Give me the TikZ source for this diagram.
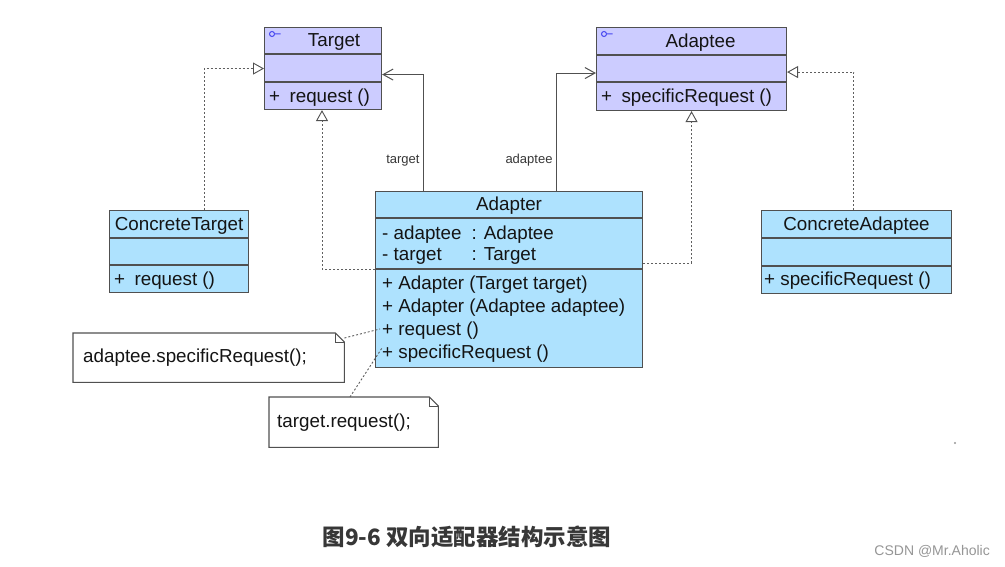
\documentclass[tikz,border=0pt]{standalone}
\usepackage{fontspec}
\setmainfont{Liberation Sans}
\newfontfamily\cjkfont{Noto Sans CJK SC}
\usepackage{tikz}
\usetikzlibrary{arrows.meta, calc}
\usepackage{xcolor}

\definecolor{classpurple}{RGB}{204,204,255}
\definecolor{classsky}{RGB}{174,226,254}
\definecolor{boxgray}{RGB}{80,80,80}
\definecolor{dotgray}{RGB}{95,95,95}
\definecolor{textblack}{RGB}{20,20,20}
\definecolor{iconblue}{RGB}{70,70,240}
\definecolor{captiongray}{RGB}{55,55,55}
\definecolor{markgray}{RGB}{150,150,150}

\begin{document}
\begin{tikzpicture}[x=1pt, y=-1pt,
    classbox/.style={draw=boxgray, line width=1.1pt, anchor=north west, inner sep=0pt},
    boxline/.style={draw=boxgray, line width=1.1pt},
    nametext/.style={inner sep=0pt, yshift=-1.5pt, text=textblack, font=\fontsize{18.8}{22}\selectfont},
    rowtext/.style={anchor=west, inner sep=0pt, yshift=-2pt, text=textblack, font=\fontsize{18.8}{22}\selectfont},
    notebox/.style={anchor=north west, align=left, inner ysep=0pt, text=textblack, font=\fontsize{18.8}{22}\selectfont},
    linklabel/.style={inner sep=3pt, text=captiongray, font=\fontsize{13}{15}\selectfont},
    assoc/.style={draw=boxgray, line width=1pt, -{Straight Barb[length=10pt, width=11pt]}},
    realize/.style={draw=dotgray, line width=0.9pt, dash pattern=on 2pt off 2pt,
        -{Triangle[open, length=11pt, width=12pt, color=boxgray]}},
    noteline/.style={draw=dotgray, line width=0.9pt, dash pattern=on 2pt off 2pt}]

    % Page
    \path[use as bounding box, fill=white] (0,0) rectangle (1005,567);

    % Classes
    \node[classbox, fill=classpurple, minimum width=117pt, minimum height=82pt] (target) at (264,27) {};
    \node[classbox, fill=classpurple, minimum width=190pt, minimum height=83pt] (adaptee) at (596,27) {};
    \node[classbox, fill=classsky, minimum width=139pt, minimum height=82pt] (ctarget) at (109,210) {};
    \node[classbox, fill=classsky, minimum width=190pt, minimum height=83pt] (cadaptee) at (761,210) {};
    \node[classbox, fill=classsky, minimum width=267pt, minimum height=176pt] (adapter) at (375,191) {};

    % Compartment lines
    \foreach \c/\a/\b in {target/27/55, adaptee/28/55, ctarget/28/55, cadaptee/28/56, adapter/27/78}
    {
        \draw[boxline] ([yshift=-\a]\c.north west) -- ([yshift=-\a]\c.north east);
        \draw[boxline] ([yshift=-\b]\c.north west) -- ([yshift=-\b]\c.north east);
    }

    % Interface icons
    \foreach \c in {target, adaptee}
    {
        \draw[iconblue, line width=1pt] ([xshift=8pt, yshift=-7pt]\c.north west) circle (2.5pt) ++(2.5pt,0) -- ++(6pt,0);
    }

    % Names
    \node[nametext] (target-name) at ([xshift=11pt, yshift=-13.5pt]target.north) {Target};
    \node[nametext] (adaptee-name) at ([xshift=9pt, yshift=-14pt]adaptee.north) {Adaptee};
    \node[nametext] (ctarget-name) at ([yshift=-14pt]ctarget.north) {ConcreteTarget};
    \node[nametext] (cadaptee-name) at ([yshift=-14pt]cadaptee.north) {ConcreteAdaptee};
    \node[nametext] (adapter-name) at ([yshift=-13.5pt]adapter.north) {Adapter};

    % Operations
    \node[rowtext] (target-op) at ([xshift=5pt, yshift=-68.5pt]target.north west) {+\enspace request ()};
    \node[rowtext] (adaptee-op) at ([xshift=5pt, yshift=-69pt]adaptee.north west) {+\enspace specificRequest ()};
    \node[rowtext] (ctarget-op) at ([xshift=5pt, yshift=-68.5pt]ctarget.north west) {+\enspace request ()};
    \node[rowtext] (cadaptee-op) at ([xshift=3pt, yshift=-69pt]cadaptee.north west) {+ specificRequest ()};

    % Adapter attributes and operations
    \node[rowtext] (adapter-attr1) at ([xshift=7pt, yshift=-42pt]adapter.north west) {-~\makebox[78pt][l]{adaptee}: Adaptee};
    \node[rowtext] (adapter-attr2) at ([xshift=7pt, yshift=-63pt]adapter.north west) {-~\makebox[78pt][l]{target}: Target};
    \foreach \t [count=\i] in {{+ Adapter (Target target)}, {+ Adapter (Adaptee adaptee)}, {+ request ()}, {+ specificRequest ()}}
    {
        \node[rowtext] (adapter-op\i) at ([xshift=7pt, yshift={-92-23*(\i-1)}]adapter.north west) {\t};
    }

    % Notes
    \node[notebox, text width=251pt, inner xsep=10pt, minimum height=49pt] (note1) at (73,333) {adaptee.specificRequest();};
    \node[notebox, text width=153pt, inner xsep=8pt, minimum height=50pt] (note2) at (269,397) {target.request();};
    \foreach \n in {note1, note2}
    {
        \draw[boxline] (\n.north west) -- ([xshift=-9pt]\n.north east) -- ([yshift=-9pt]\n.north east) -- (\n.south east) -- (\n.south west) -- cycle;
        \draw[boxline, line width=0.7pt] ([xshift=-9pt]\n.north east) |- ([yshift=-9pt]\n.north east);
    }
    \draw[noteline] ([yshift=-5pt]note1.north east) -- ([xshift=5pt, yshift=-138pt]adapter.north west);
    \draw[noteline] ([xshift=81pt]note2.north west) -- ([xshift=7pt, yshift=-157pt]adapter.north west);

    % Associations
    \draw[assoc] ([xshift=48pt]adapter.north west) |- ([yshift=-6pt]target.east)
        node[linklabel, pos=0.13, left] {target};
    \draw[assoc] ([xshift=181pt]adapter.north west) |- ([yshift=-4pt]adaptee.west)
        node[linklabel, pos=0.13, left] {adaptee};

    % Realizations
    \draw[realize] ([xshift=25pt]ctarget.north) |- (target.west);
    \draw[realize] ([yshift=-78pt]adapter.north west) -| ([xshift=58pt]target.south west);
    \draw[realize] ([yshift=-72pt]adapter.north east) -| (adaptee.south);
    \draw[realize] ([xshift=-3pt]cadaptee.north) |- ([yshift=-3pt]adaptee.east);

    % Caption and mark
    \node[text=captiongray, font=\cjkfont\bfseries\fontsize{22.5}{26}\selectfont] (caption) at (467,537) {图9-6 双向适配器结构示意图};
    \node[anchor=east, inner sep=0pt, text=markgray, font=\fontsize{14}{16}\selectfont] (mark) at (990,551) {CSDN @Mr.Aholic};
    \fill[markgray] (955,443) circle (1.2pt);
\end{tikzpicture}
\end{document}
